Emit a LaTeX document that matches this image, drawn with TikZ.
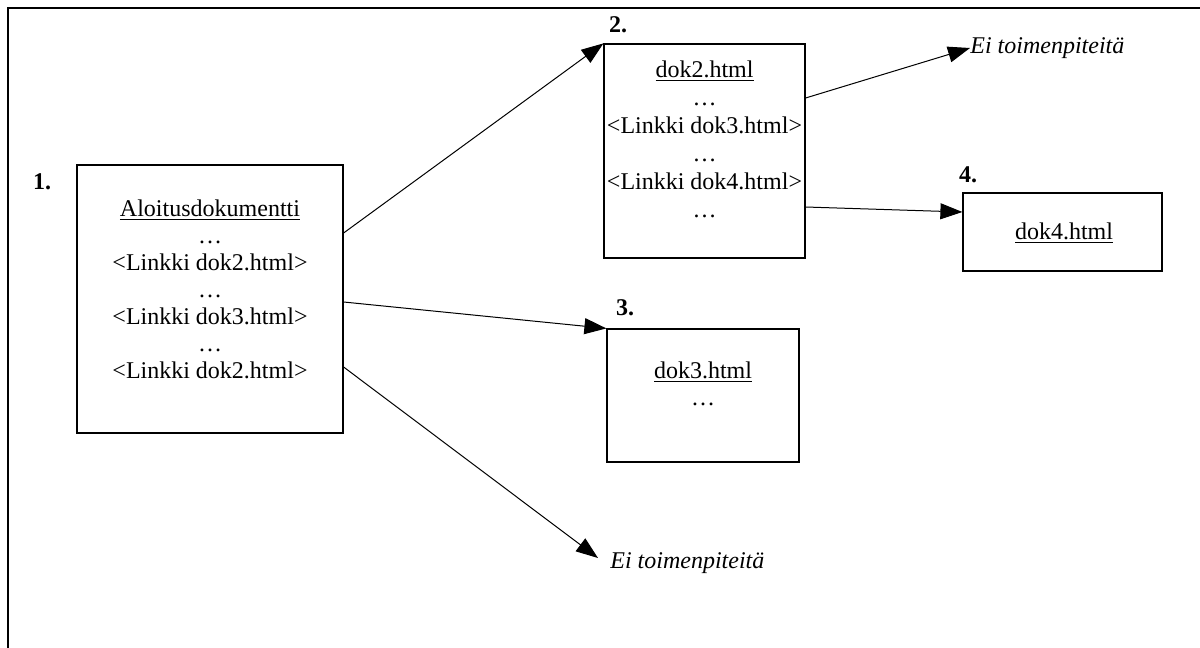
\documentclass[tikz,border=0pt]{standalone}
\usepackage{fontspec}
\setmainfont{Liberation Serif}
\usetikzlibrary{arrows.meta}

\begin{document}
\begin{tikzpicture}[
    x=0.5pt, y=-0.5pt,
    doc/.style={rectangle, draw, line width=0.6pt, inner sep=0pt},
    doctext/.style={align=center, font=\fontsize{12}{13.5}\selectfont, inner sep=0pt},
    num/.style={font=\fontsize{12}{13.5}\selectfont\bfseries, inner sep=0pt},
    ei/.style={font=\fontsize{12}{13.5}\selectfont\itshape, inner sep=0pt, anchor=west},
    link/.style={-{Triangle[length=11pt, width=8pt]}, line width=0.5pt},
]
    \useasboundingbox (0,0) rectangle (1200,648);
    % frame
    \draw[line width=1pt] (7.8,648) -- (7.8,7.8) -- (1200,7.8);

    % documents
    \node[doc, minimum width=133pt, minimum height=134pt] (box1) at (210,299) {};
    \node[doctext] (text1) at (210,289) {\underline{Aloitusdokumentti}\\ \dots\\ <Linkki dok2.html>\\ \dots\\ <Linkki dok3.html>\\ \dots\\ <Linkki dok2.html>};
    \node[doc, minimum width=100.5pt, minimum height=107pt] (box2) at (704.5,151) {};
    \node[doctext, font=\fontsize{12}{14}\selectfont] (text2) at (704.5,139) {\underline{dok2.html}\\ \dots\\ <Linkki dok3.html>\\ \dots\\ <Linkki dok4.html>\\ \dots};
    \node[doc, minimum width=96pt, minimum height=66.5pt] (box3) at (703,395.5) {};
    \node[doctext] (text3) at (703,384) {\underline{dok3.html}\\ \dots};
    \node[doc, minimum width=99.5pt, minimum height=39pt] (box4) at (1062.5,232) {};
    \node[doctext] (text4) at (1064,233) {\underline{dok4.html}};

    % numbers
    \node[num] (n1) at (42,182) {1.};
    \node[num] (n2) at (618,25) {2.};
    \node[num] (n3) at (625,308) {3.};
    \node[num] (n4) at (968,175) {4.};

    % no action
    \node[ei] (ei1) at (970,48) {Ei toimenpiteitä};
    \node[ei] (ei2) at (610,563) {Ei toimenpiteitä};

    % links
    \draw[link] ([yshift=33pt]box1.east) -- (box2.north west);
    \draw[link] ([yshift=-1.5pt]box1.east) -- (box3.north west);
    \draw[link] ([yshift=-34pt]box1.east) -- ([xshift=-6pt,yshift=2.5pt]ei2.west);
    \draw[link] ([yshift=26.5pt]box2.east) -- (ei1.west);
    \draw[link] ([yshift=-28pt]box2.east) -- ([yshift=10pt]box4.west);
\end{tikzpicture}
\end{document}
